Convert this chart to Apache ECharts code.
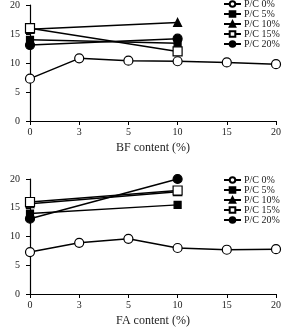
<!DOCTYPE html>
<html>
<head>
<meta charset="utf-8">
<script src="https://cdn.jsdelivr.net/npm/echarts@6/dist/echarts.min.js"></script>
<style>
  html, body { margin: 0; padding: 0; background: #fff; }
  #chart { width: 284px; height: 328px; }
</style>
</head>
<body>
<div id="chart"></div>
<script>
// categories on both x axes
const contents = ['0', '3', '5', '10', '15', '20'];
const seriesNames = ['P/C 0%', 'P/C 5%', 'P/C 10%', 'P/C 15%', 'P/C 20%'];

// upper panel: BF content
const bfPC0 = [7.3, 10.8, 10.4, 10.3, 10.1, 9.8];
const bfPC5 = [14.0, null, null, 13.4, null, null];
const bfPC10 = [15.8, null, null, 17.0, null, null];
const bfPC15 = [16.0, null, null, 12.0, null, null];
const bfPC20 = [13.1, null, null, 14.2, null, null];

// lower panel: FA content
const faPC0 = [7.3, 8.9, 9.6, 8.0, 7.7, 7.8];
const faPC5 = [14.0, null, null, 15.5, null, null];
const faPC10 = [15.7, null, null, 17.8, null, null];
const faPC15 = [16.0, null, null, 18.0, null, null];
const faPC20 = [13.1, null, null, 20.0, null, null];

const yTicks = { min: 0, max: 20, interval: 5 };

const FONT = 'Liberation Serif';

// marker look for each series, in legend order
const markers = [
  { symbol: 'circle', size: 9, fill: '#fff' },
  { symbol: 'rect', size: 7, fill: '#000' },
  { symbol: 'triangle', size: 8, fill: '#000' },
  { symbol: 'rect', size: 9, fill: '#fff' },
  { symbol: 'circle', size: 9, fill: '#000' }
];

function makeSeries(panel, values) {
  return values.map((data, i) => ({
    name: seriesNames[i],
    type: 'line',
    xAxisIndex: panel,
    yAxisIndex: panel,
    data: data,
    connectNulls: true,
    symbol: markers[i].symbol,
    symbolSize: markers[i].size,
    showAllSymbol: true,
    lineStyle: { color: '#000', width: 1.5 },
    itemStyle: { color: markers[i].fill, borderColor: '#000', borderWidth: 1.2 },
    emphasis: { disabled: true },
    animation: false
  }));
}

function makeX(panel, name) {
  return {
    type: 'category',
    gridIndex: panel,
    data: contents,
    boundaryGap: false,
    name: name,
    nameLocation: 'middle',
    nameGap: 21,
    nameTextStyle: { fontFamily: FONT, fontSize: 12, color: '#222' },
    axisLine: { lineStyle: { color: '#000', width: 1.2 } },
    axisTick: { show: true, length: 4, alignWithLabel: true, lineStyle: { color: '#000' } },
    axisLabel: { fontFamily: FONT, fontSize: 10, color: '#222', margin: 6 },
    splitLine: { show: false }
  };
}

function makeY(panel) {
  return {
    type: 'value',
    gridIndex: panel,
    min: yTicks.min,
    max: yTicks.max,
    interval: yTicks.interval,
    axisLine: { show: true, lineStyle: { color: '#000', width: 1.2 } },
    axisTick: { show: true, length: 4, lineStyle: { color: '#000' } },
    axisLabel: { fontFamily: FONT, fontSize: 10, color: '#222', margin: 10 },
    splitLine: { show: false }
  };
}

function makeLegend(top) {
  return {
    data: seriesNames,
    orient: 'vertical',
    left: 223,
    top: top,
    itemWidth: 17,
    itemHeight: 7,
    itemGap: 0,
    padding: 0,
    selectedMode: false,
    textStyle: { fontFamily: FONT, fontSize: 10, lineHeight: 10, color: '#222', padding: [0, 0, 0, -2] }
  };
}

const chart = echarts.init(document.getElementById('chart'), null, { renderer: 'canvas' });

chart.setOption({
  animation: false,
  backgroundColor: '#fff',
  grid: [
    { left: 30, right: 8, top: 2, height: 119 },
    { left: 30, right: 8, top: 179, height: 118 }
  ],
  xAxis: [makeX(0, 'BF content (%)'), makeX(1, 'FA content (%)')],
  yAxis: [makeY(0), makeY(1)],
  legend: [makeLegend(-1), makeLegend(175)],
  series: [
    ...makeSeries(0, [bfPC0, bfPC5, bfPC10, bfPC15, bfPC20]),
    ...makeSeries(1, [faPC0, faPC5, faPC10, faPC15, faPC20])
  ]
});
</script>
</body>
</html>
